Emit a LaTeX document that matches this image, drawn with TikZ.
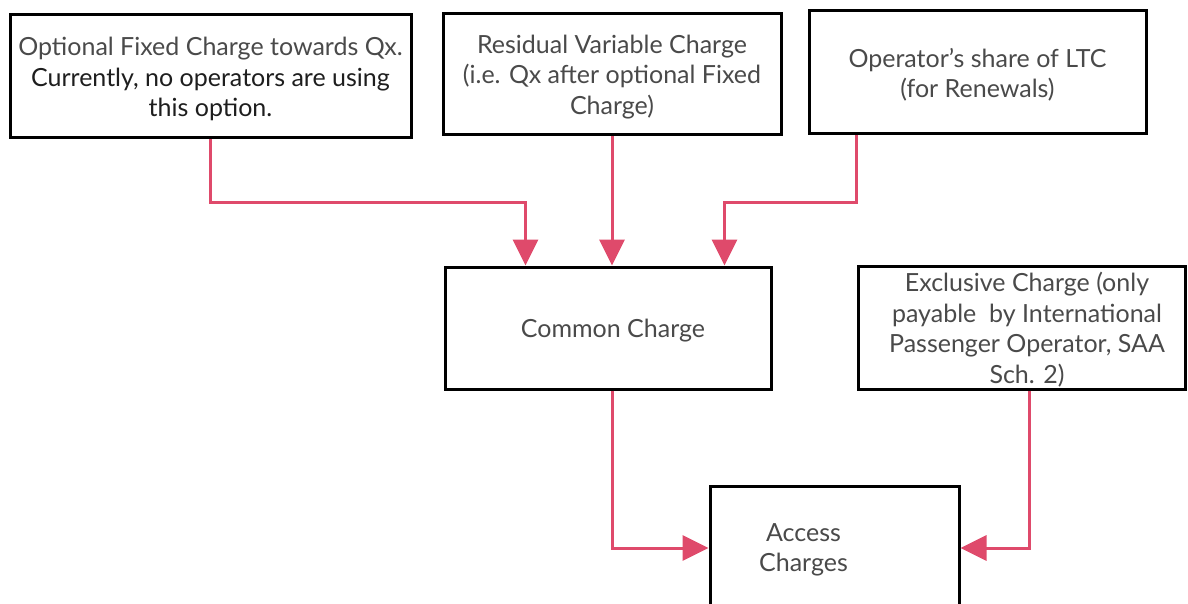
\documentclass[tikz,border=0pt]{standalone}
\usepackage{fontspec}
\setmainfont{Lato}
\usetikzlibrary{arrows.meta,calc}
\definecolor{flow}{HTML}{DF4A6B}
\definecolor{txt}{HTML}{4A4A4A}
\definecolor{txtdark}{HTML}{1E1E1E}
\begin{document}
\begin{tikzpicture}[x=1pt,y=-1pt,
  box/.style={draw=black,line width=3pt,rectangle,inner sep=0pt},
  label/.style={align=center,text=txt,inner sep=0pt,font=\fontsize{25}{30.5}\selectfont},
  arr/.style={draw=flow,line width=3pt,-{Triangle[length=26pt,width=25pt]}}]
\useasboundingbox (0,0) rectangle (1188,604);
\fill[white] (0,0) rectangle (1188,604);

% boxes
\node[box,minimum width=401pt,minimum height=123pt] (b1) at (210.5,76.5) {};
\node[box,minimum width=338pt,minimum height=121pt] (b2) at (612,74.5) {};
\node[box,minimum width=337pt,minimum height=123pt] (b3) at (977.5,72.5) {};
\node[box,minimum width=326pt,minimum height=122pt] (cc) at (608,328) {};
\node[box,minimum width=327pt,minimum height=123pt] (ex) at (1022,327.5) {};
\node[box,minimum width=249pt,minimum height=124pt] (ac) at (834.5,548) {};

% box texts
\node[label] (b1text) at ($(b1.center)+(0,2.5)$)
  {Optional Fixed Charge towards Qx.\\{\color{txtdark}Currently, no operators are using}\\{\color{txtdark}this option.}};
\node[label] (b2text) at ($(b2.center)+(0,2.5)$)
  {Residual Variable Charge\\(i.e. Qx after optional Fixed\\Charge)};
\node[label] (b3text) at ($(b3.center)+(0,2.5)$)
  {Operator’s share of LTC\\(for Renewals)};
\node[label] (cctext) at ($(cc.center)+(5,2.5)$) {Common Charge};
\node[label] (extext) at ($(ex.center)+(5,2)$)
  {Exclusive Charge (only\\payable\ \ by International\\Passenger Operator, SAA\\Sch. 2)};
\node[label] (actext) at ($(ac.center)+(-31,2)$) {Access\\Charges};

% connectors
\coordinate (elbow) at (0,203);
\draw[arr] (b1.south) -- (b1.south |- elbow) -| ($(cc.north west)+(82,0)$);
\draw[arr] (b2.south) -- (b2.south |- cc.north);
\draw[arr] ($(b3.south)+(-121,0)$) -- ($(b3.south |- elbow)+(-121,0)$) -| ($(cc.north west)+(281,0)$);
\draw[arr] ($(cc.south)+(4,0)$) |- (ac.west);
\draw[arr] ($(ex.south)+(7,0)$) |- (ac.east);
\end{tikzpicture}
\end{document}
